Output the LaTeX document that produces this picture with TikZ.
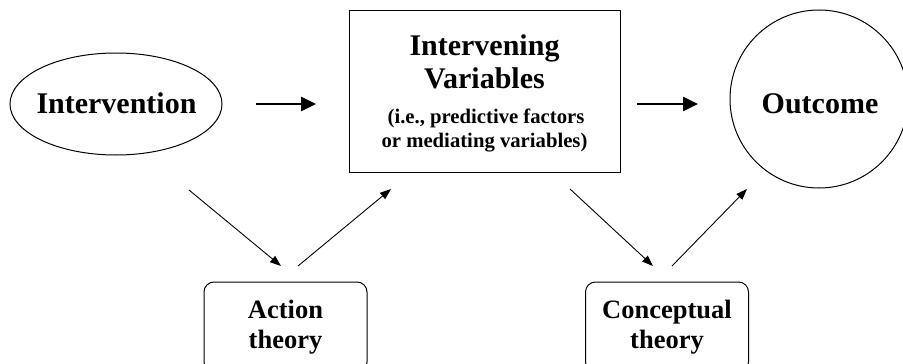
\documentclass[tikz,border=0pt]{standalone}
\usepackage{fontspec}
\setmainfont{Liberation Serif}
\usetikzlibrary{arrows.meta,shapes.geometric}
\tikzset{
  bigfont/.style={font=\fontsize{30}{30}\selectfont\bfseries},
  smallfont/.style={font=\fontsize{20.7}{24}\selectfont\bfseries},
  midfont/.style={font=\fontsize{26.5}{30}\selectfont\bfseries},
  thickarrow/.style={line width=2.6pt,-{Triangle[length=15pt,width=14pt]}},
  thinarrow/.style={line width=0.9pt,-{Triangle[length=11pt,width=8pt]}},
  theorybox/.style={draw,line width=1pt,rounded corners=10pt,minimum width=163pt,minimum height=90pt,align=center,inner sep=0pt,midfont}
}
\begin{document}
\begin{tikzpicture}[x=1pt,y=-1pt]
\useasboundingbox (0,0) rectangle (903,364);
% main nodes
\node[ellipse,draw,line width=1pt,minimum width=212pt,minimum height=102pt,inner sep=0pt] (int) at (116,104) {};
\node[bigfont,anchor=base] (intt) at (116.5,113) {Intervention};
\node[draw,line width=1pt,minimum width=271pt,minimum height=162pt,inner sep=0pt] (iv) at (484.5,91) {};
\node[bigfont,anchor=base] (ivt1) at (484.5,55) {Intervening};
\node[bigfont,anchor=base] (ivt2) at (484.5,88) {Variables};
\node[smallfont,anchor=base] (ivt3) at (486,123) {(i.e., predictive factors};
\node[smallfont,anchor=base] (ivt4) at (484.5,147) {or mediating variables)};
\node[circle,draw,line width=1pt,minimum size=178pt,inner sep=0pt] (out) at (819,99) {};
\node[bigfont,anchor=base] (outt) at (820,113) {Outcome};
\node[theorybox] (act) at (285.5,327) {Action\\theory};
\node[theorybox] (con) at (667,327) {Conceptual\\theory};
% arrow end points
\coordinate (h1s) at (256,104); \coordinate (h1e) at (316,104);
\coordinate (h2s) at (637,104); \coordinate (h2e) at (698,104);
\coordinate (d1s) at (189,190); \coordinate (d1e) at (281,266);
\coordinate (d2s) at (298,266); \coordinate (d2e) at (391,189);
\coordinate (d3s) at (570,189); \coordinate (d3e) at (653,266);
\coordinate (d4s) at (672,266); \coordinate (d4e) at (747,189);
\draw[thickarrow] (h1s) -- (h1e);
\draw[thickarrow] (h2s) -- (h2e);
\draw[thinarrow] (d1s) -- (d1e);
\draw[thinarrow] (d2s) -- (d2e);
\draw[thinarrow] (d3s) -- (d3e);
\draw[thinarrow] (d4s) -- (d4e);
\end{tikzpicture}
\end{document}
